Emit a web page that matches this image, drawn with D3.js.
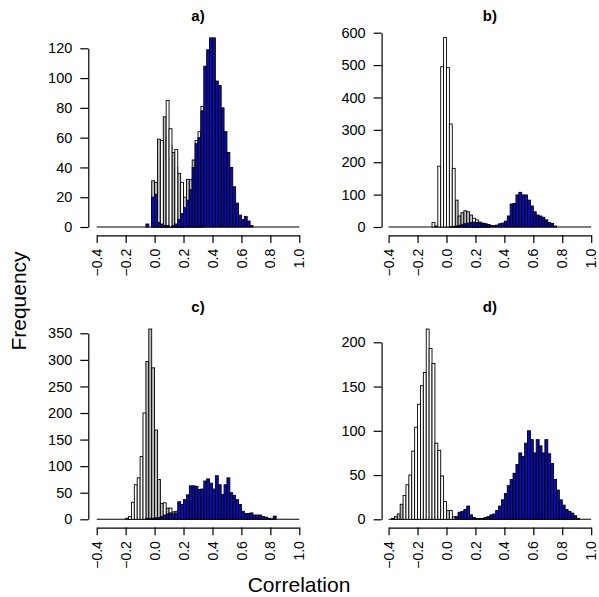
<!DOCTYPE html>
<html>
<head>
<meta charset="utf-8">
<script src="https://cdn.jsdelivr.net/npm/d3@7"></script>
<style>
body { margin: 0; background: #fff; }
text { font-family: "Liberation Sans", Arial, sans-serif; }
</style>
</head>
<body>
<svg id="chart" width="599" height="597"></svg>
<script>
// bins are 0.02 wide, from -0.4 to 1.0 (70 bins)
var binStart = -0.4, binWidth = 0.02;
var xTicks = [-0.4, -0.2, 0.0, 0.2, 0.4, 0.6, 0.8, 1.0];

// a)
var greyA  = [0,0,0,0,0,0,0,0,0,0, 0,0,0,0,0,0,0,0,0,31, 30,59,45,74,60,55,50,40,36,25, 20,32,32,45,0,0,0,0,0,0, 0,0,0,0,0,0,0,0,0,0, 0,0,0,0,0,0,0,0,0,0, 0,0,0,0,0,0,0,0,0,0];
var whiteA = [0,0,0,0,0,0,0,0,0,0, 0,0,0,0,0,0,0,0,0,0, 0,0,58,0,85,66,0,52,0,30, 0,0,0,0,58,64,81,0,0,0, 0,0,0,0,0,0,0,0,0,0, 0,0,0,0,0,0,0,0,0,0, 0,0,0,0,0,0,0,0,0,0];
var blueA  = [0,0,0,0,0,0,0,0,0,0, 0,0,0,0,0,0,0,2,0,20, 22,3,2,1,1,0,1,2,5,9, 13,18,25,40,56,60,78,108,119,127, 127,98,95,80,64,50,40,27,16,8, 5,7,4,1,0,0,0,0,0,0, 0,0,0,0,0,0,0,0,0,0];
var yTicksA = [0, 20, 40, 60, 80, 100, 120];

// b)
var greyB  = [0,0,0,0,0,0,0,0,0,0, 0,0,0,0,0,0,0,0,0,0, 0,0,0,83,34,44,50,47,37,20, 15,15,12,10,8,0,0,0,0,0, 0,0,0,0,0,0,0,0,0,0, 0,0,0,0,0,0,0,0,0,0, 0,0,0,0,0,0,0,0,0,0];
var whiteB = [0,0,0,0,0,0,0,0,0,0, 0,0,0,0,0,14,3,188,495,585, 492,318,181,0,0,0,0,0,0,27, 22,0,0,0,0,0,0,0,0,0, 0,0,0,0,0,0,0,0,0,0, 0,0,0,0,0,0,0,0,0,0, 0,0,0,0,0,0,0,0,0,0];
var blueB  = [0,0,0,0,0,0,0,0,0,0, 0,0,0,0,0,0,0,0,0,0, 0,1,2,3,5,7,10,12,14,15, 14,13,11,9,7,5,4,6,10,12, 18,34,71,73,99,107,99,99,83,65, 47,37,34,30,22,14,11,3,0,0, 0,0,0,0,0,0,0,0,0,0];
var yTicksB = [0, 100, 200, 300, 400, 500, 600];

// c)
var greyC  = [0,0,0,0,0,0,0,0,0,0, 0,0,0,0,0,0,0,297,358,285, 168,75,30,0,21,0,14,0,0,0, 0,0,0,0,0,0,0,0,0,0, 0,0,0,0,0,0,0,0,0,0, 0,0,0,0,0,0,0,0,0,0, 0,0,0,0,0,0,0,0,0,0];
var whiteC = [0,0,0,0,0,0,0,0,0,0, 2,5,32,65,78,118,200,0,0,0, 0,0,0,31,0,21,0,15,0,0, 0,0,0,0,0,0,0,0,0,0, 0,0,0,0,0,0,0,0,0,0, 0,0,0,0,0,0,0,0,0,0, 0,0,0,0,0,0,0,0,0,0];
var blueC  = [0,0,0,0,0,0,0,0,0,0, 0,0,0,0,0,0,0,2,2,2, 3,3,5,8,10,12,10,12,33,28, 37,46,63,63,62,56,57,72,76,68, 57,82,65,47,65,78,50,45,37,28, 15,11,11,12,8,8,8,5,4,2, 1,6,0,0,0,0,0,0,0,0];
var yTicksC = [0, 50, 100, 150, 200, 250, 300, 350];

// d)
var greyD  = [0,1,3,6,17,0,0,0,0,0, 0,0,0,0,0,0,0,0,0,0, 10,0,3,0,0,0,0,0,0,0, 0,0,0,0,0,0,0,0,0,0, 0,0,0,0,0,0,0,0,0,0, 0,0,0,0,0,0,0,0,0,0, 0,0,0,0,0,0,0,0,0,0];
var whiteD = [0,0,0,0,0,27,39,50,77,104, 130,151,166,215,193,176,86,78,49,20, 0,10,0,0,0,0,0,0,0,0, 0,0,0,0,0,0,0,0,0,0, 0,0,0,0,0,0,0,0,0,0, 0,0,0,0,0,0,0,0,0,0, 0,0,0,0,0,0,0,0,0,0];
var blueD  = [0,0,0,0,0,0,0,0,0,0, 0,0,0,0,0,0,0,0,0,0, 0,0,0,3,8,9,11,15,5,2, 1,1,1,2,3,5,6,10,15,22, 29,38,45,52,62,75,71,86,100,90, 75,90,83,75,90,74,63,45,33,22, 16,11,9,7,4,1,0,0,0,0];
var yTicksD = [0, 50, 100, 150, 200];

var greyCol = "#bebebe", whiteCol = "#ffffff", blueCol = "#0c0cb4";

var panels = [
    {title: "a)", grey: greyA, white: whiteA, blue: blueA, yTicks: yTicksA, left: 96.7, axisX: 88.3, base: 227, top: 48.3, titleY: 20.5},
    {title: "b)", grey: greyB, white: whiteB, blue: blueB, yTicks: yTicksB, left: 388.6, axisX: 381.6, base: 227, top: 32.7, titleY: 20.5},
    {title: "c)", grey: greyC, white: whiteC, blue: blueC, yTicks: yTicksC, left: 96.7, axisX: 88.3, base: 519.3, top: 333.3, titleY: 312},
    {title: "d)", grey: greyD, white: whiteD, blue: blueD, yTicks: yTicksD, left: 388.6, axisX: 381.6, base: 519.3, top: 342.3, titleY: 312}
];

var svg = d3.select("#chart");

function fmtX(d) {
    return d.toFixed(1).replace("-", "\u2212");
}

panels.forEach(function(p) {
    var x = d3.scaleLinear().domain([-0.4, 1.0]).range([p.left, p.left + 202.6]);
    var y = d3.scaleLinear().domain([0, d3.max(p.yTicks)]).range([p.base, p.top]);
    var g = svg.append("g");

    // zero-count bins show as a flat line
    g.append("line")
        .attr("x1", x(-0.4)).attr("x2", x(1.0))
        .attr("y1", y(0)).attr("y2", y(0))
        .attr("stroke", "#000").attr("stroke-width", 1.1);

    var series = [[p.grey, greyCol], [p.white, whiteCol], [p.blue, blueCol]];
    series.forEach(function(s) {
        var bins = s[0].map(function(v, i) { return {i: i, v: v}; })
            .filter(function(d) { return d.v > 0; });
        g.append("g").selectAll("rect")
            .data(bins)
            .enter().append("rect")
            .attr("x", function(d) { return x(binStart + d.i * binWidth); })
            .attr("width", function(d) { return x(binStart + (d.i + 1) * binWidth) - x(binStart + d.i * binWidth); })
            .attr("y", function(d) { return y(d.v); })
            .attr("height", function(d) { return y(0) - y(d.v); })
            .attr("fill", s[1])
            .attr("stroke", "#000")
            .attr("stroke-width", 0.9);
    });

    // y axis
    var ya = g.append("g")
        .attr("transform", "translate(" + p.axisX + ",0)")
        .call(d3.axisLeft(y).tickValues(p.yTicks).tickSize(8).tickSizeOuter(0).tickPadding(8));
    ya.selectAll("path, line").attr("stroke", "#000").attr("stroke-width", 1.2);
    ya.selectAll("text").attr("font-size", "14.5px").attr("fill", "#000")
        .style("font-family", '"Liberation Sans", Arial, sans-serif');

    // x axis, labels turned upright
    var xa = g.append("g")
        .attr("transform", "translate(0," + (p.base + 8.3) + ")")
        .call(d3.axisBottom(x).tickValues(xTicks).tickFormat(fmtX).tickSize(7.7).tickSizeOuter(0));
    xa.selectAll("path, line").attr("stroke", "#000").attr("stroke-width", 1.2);
    xa.selectAll("text")
        .attr("transform", "rotate(-90)")
        .attr("text-anchor", "end")
        .attr("x", -13.5).attr("y", 0).attr("dy", "0.33em")
        .attr("font-size", "14px").attr("fill", "#000")
        .style("font-family", '"Liberation Sans", Arial, sans-serif');

    g.append("text")
        .attr("x", (x(-0.4) + x(1.0)) / 2)
        .attr("y", p.titleY)
        .attr("text-anchor", "middle")
        .attr("font-size", "15px")
        .attr("font-weight", "bold")
        .text(p.title);
});

svg.append("text")
    .attr("transform", "translate(26,301) rotate(-90)")
    .attr("text-anchor", "middle")
    .attr("font-size", "21px")
    .text("Frequency");

svg.append("text")
    .attr("x", 299).attr("y", 592)
    .attr("text-anchor", "middle")
    .attr("font-size", "21px")
    .text("Correlation");
</script>
</body>
</html>
